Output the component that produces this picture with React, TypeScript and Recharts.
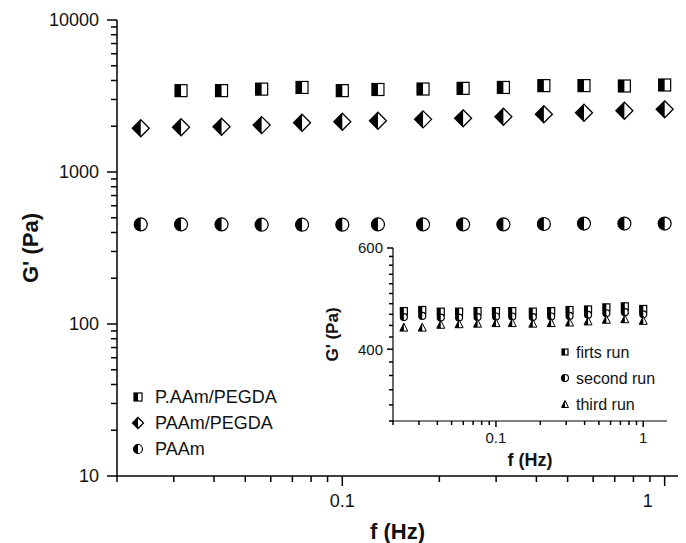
import React from "react";
import { ScatterChart, Scatter, XAxis, YAxis, Legend } from "recharts";

const FONT = "'Liberation Sans', Arial, Helvetica, sans-serif";

// frequency sweep (Hz)
const frequencies = [0.0237, 0.0316, 0.0422, 0.0562, 0.075, 0.1, 0.129, 0.178, 0.237, 0.316, 0.422, 0.562, 0.75, 1.0];

// G' (Pa) main plot; P.AAm/PEGDA has no point at the first frequency
const pAAmPegda = [3430, 3430, 3510, 3600, 3430, 3490, 3515, 3550, 3600, 3700, 3700, 3680, 3735];
const paamPegda = [1940, 1970, 1985, 2035, 2110, 2140, 2175, 2220, 2255, 2310, 2400, 2455, 2530, 2585];
const paam = [452, 452, 452, 450, 450, 450, 452, 452, 452, 452, 455, 458, 458, 458];

// inset: three runs of PAAm
const firstRun = [466, 468, 465, 465, 466, 466, 466, 465, 466, 468, 469, 473, 475, 470];
const secondRun = [455, 457, 454, 454, 455, 456, 456, 455, 456, 457, 459, 462, 464, 460];
const thirdRun = [437, 437, 442, 443, 444, 445, 445, 444, 445, 446, 448, 451, 452, 449];

const xTicks = [0.02, 0.03, 0.04, 0.05, 0.06, 0.07, 0.08, 0.09, 0.1, 0.2, 0.3, 0.4, 0.5, 0.6, 0.7, 0.8, 0.9, 1];
const xLabels = [0.1, 1];
const mainYTicks = [10, 20, 30, 40, 50, 60, 70, 80, 90, 100, 200, 300, 400, 500, 600, 700, 800, 900, 1000, 2000, 3000, 4000, 5000, 6000, 7000, 8000, 9000, 10000];
const mainYLabels = [10, 100, 1000, 10000];
const insetYTicks = [300, 320, 340, 360, 380, 400, 420, 440, 460, 480, 500, 520, 540, 560, 580, 600];
const insetYLabels = [400, 600];

const mainLegend = ["P.AAm/PEGDA", "PAAm/PEGDA", "PAAm"];
const insetLegend = ["firts run", "second run", "third run"];

const toPoints = (xs: number[], ys: number[]) => ys.map((g, i) => ({ f: xs[i], g }));

// ---- markers ----
function HalfSquare({ cx, cy, s }: any) {
  const h = s / 2;
  return (
    <g>
      <rect x={cx - h} y={cy - h} width={s} height={s} fill="#fff" stroke="#000" strokeWidth={1.2} />
      <rect x={cx - h} y={cy - h} width={h} height={s} fill="#000" />
    </g>
  );
}

function HalfDiamond({ cx, cy, s }: any) {
  const h = s / 2;
  return (
    <g>
      <path d={`M${cx},${cy - h}L${cx + h},${cy}L${cx},${cy + h}L${cx - h},${cy}Z`} fill="#fff" stroke="#000" strokeWidth={1.3} />
      <path d={`M${cx},${cy - h}L${cx},${cy + h}L${cx - h},${cy}Z`} fill="#000" />
    </g>
  );
}

function HalfCircle({ cx, cy, s }: any) {
  const r = s / 2;
  return (
    <g>
      <circle cx={cx} cy={cy} r={r} fill="#fff" stroke="#000" strokeWidth={1.2} />
      <path d={`M${cx},${cy - r}A${r},${r} 0 0 0 ${cx},${cy + r}Z`} fill="#000" />
    </g>
  );
}

function HalfTriangle({ cx, cy, s }: any) {
  const h = s / 2;
  return (
    <g>
      <path d={`M${cx},${cy - h}L${cx + h},${cy + h}L${cx - h},${cy + h}Z`} fill="#fff" stroke="#000" strokeWidth={1} />
      <path d={`M${cx},${cy - h}L${cx},${cy + h}L${cx - h},${cy + h}Z`} fill="#000" />
    </g>
  );
}

// ---- ticks (tickSize/tickMargin = 0, so x/y is the axis line) ----
function xTick(labels: number[], fontSize: number, labelDy: number, major: number, minor: number, shift: Record<string, number> = {}) {
  return (props: any) => {
    const { x, y, payload } = props;
    const v = payload.value;
    const isMajor = labels.includes(v);
    return (
      <g>
        <line x1={x} x2={x} y1={y} y2={y + (isMajor ? major : minor)} stroke="#000" strokeWidth={1.5} />
        {isMajor && (
          <text x={x + (shift[v] || 0)} y={y + labelDy} textAnchor="middle" fontSize={fontSize} fontFamily={FONT} fill="#111">
            {v}
          </text>
        )}
      </g>
    );
  };
}

function yTick(labels: number[], fontSize: number, labelDx: number, major: number, minor: number) {
  return (props: any) => {
    const { x, y, payload } = props;
    const v = payload.value;
    const isMajor = labels.includes(v);
    return (
      <g>
        <line x1={x} x2={x - (isMajor ? major : minor)} y1={y} y2={y} stroke="#000" strokeWidth={1.5} />
        {isMajor && (
          <text x={x - labelDx} y={y} dy="0.36em" textAnchor="end" fontSize={fontSize} fontFamily={FONT} fill="#111">
            {v}
          </text>
        )}
      </g>
    );
  };
}

function YTitle({ viewBox, cx, fontSize, text }: any) {
  const cy = viewBox.y + viewBox.height / 2;
  return (
    <text x={cx} y={cy} transform={`rotate(-90 ${cx} ${cy})`} textAnchor="middle" dy="0.35em" fontSize={fontSize} fontWeight="bold" fontFamily={FONT} fill="#111">
      {text}
    </text>
  );
}

function XTitle({ viewBox, dy, fontSize, text }: any) {
  return (
    <text x={viewBox.x + viewBox.width / 2} y={viewBox.y + dy} textAnchor="middle" fontSize={fontSize} fontWeight="bold" fontFamily={FONT} fill="#111">
      {text}
    </text>
  );
}

function LegendBox({ names, markers, size, fontSize, rowGap, textX, width }: any) {
  return (
    <svg width={width} height={rowGap * names.length + 6} style={{ display: "block" }}>
      {names.map((n: string, i: number) => {
        const Marker = markers[i];
        const cy = 12 + i * rowGap;
        return (
          <g key={n}>
            <Marker cx={10} cy={cy} s={size[i]} />
            <text x={textX} y={cy} dy="0.36em" fontSize={fontSize} fontFamily={FONT} fill="#111">
              {n}
            </text>
          </g>
        );
      })}
    </svg>
  );
}

export default function App() {
  const axisLine = { stroke: "#000", strokeWidth: 1.5 };
  return (
    <div style={{ position: "absolute", left: 0, top: 0, width: 686, height: 543, background: "#fff" }}>
      <ScatterChart width={686} height={543} margin={{ top: 20, right: 8, bottom: 37, left: 0 }}>
        <XAxis
          type="number"
          dataKey="f"
          scale="log"
          domain={[0.02, 1.1]}
          allowDataOverflow
          ticks={xTicks}
          interval={0}
          height={30}
          tickSize={0}
          tickMargin={0}
          tickLine={false}
          axisLine={axisLine}
          tick={xTick(xLabels, 18, 31, 10, 6, { 1: -17 })}
          label={<XTitle dy={63} fontSize={22} text="f (Hz)" />}
        />
        <YAxis
          type="number"
          dataKey="g"
          scale="log"
          domain={[10, 10000]}
          allowDataOverflow
          ticks={mainYTicks}
          interval={0}
          width={117}
          tickSize={0}
          tickMargin={0}
          tickLine={false}
          axisLine={axisLine}
          tick={yTick(mainYLabels, 18, 18, 10, 6)}
          label={<YTitle cx={30} fontSize={22} text="G' (Pa)" />}
        />
        <Scatter name={mainLegend[0]} data={toPoints(frequencies.slice(1), pAAmPegda)} isAnimationActive={false} shape={(p: any) => <HalfSquare cx={p.cx} cy={p.cy} s={12} />} />
        <Scatter name={mainLegend[1]} data={toPoints(frequencies, paamPegda)} isAnimationActive={false} shape={(p: any) => <HalfDiamond cx={p.cx} cy={p.cy} s={17} />} />
        <Scatter name={mainLegend[2]} data={toPoints(frequencies, paam)} isAnimationActive={false} shape={(p: any) => <HalfCircle cx={p.cx} cy={p.cy} s={13} />} />
        <Legend
          layout="vertical"
          align="center"
          verticalAlign="middle"
          wrapperStyle={{ left: 128, top: 385, width: 180 }}
          content={() => (
            <LegendBox names={mainLegend} markers={[HalfSquare, HalfDiamond, HalfCircle]} size={[8, 11, 9]} fontSize={18} rowGap={26} textX={27} width={180} />
          )}
        />
      </ScatterChart>

      <div style={{ position: "absolute", left: 300, top: 230 }}>
        <ScatterChart width={386} height={250} margin={{ top: 18, right: 19, bottom: 0, left: 0 }}>
          <XAxis
            type="number"
            dataKey="f"
            scale="log"
            domain={[0.02, 1.45]}
            allowDataOverflow
            ticks={xTicks}
            interval={0}
            height={59}
            tickSize={0}
            tickMargin={0}
            tickLine={false}
            axisLine={{ stroke: "#000", strokeWidth: 1.2 }}
            tick={xTick(xLabels, 15, 22, 6, 4)}
            label={<XTitle dy={45} fontSize={18} text="f (Hz)" />}
          />
          <YAxis
            type="number"
            dataKey="g"
            scale="log"
            domain={[300, 600]}
            allowDataOverflow
            ticks={insetYTicks}
            interval={0}
            width={93}
            tickSize={0}
            tickMargin={0}
            tickLine={false}
            axisLine={{ stroke: "#000", strokeWidth: 1.2 }}
            tick={yTick(insetYLabels, 15, 10, 6, 4)}
            label={<YTitle cx={32} fontSize={17} text="G' (Pa)" />}
          />
          <Scatter name={insetLegend[0]} data={toPoints(frequencies, firstRun)} isAnimationActive={false} shape={(p: any) => <HalfSquare cx={p.cx} cy={p.cy} s={7} />} />
          <Scatter name={insetLegend[1]} data={toPoints(frequencies, secondRun)} isAnimationActive={false} shape={(p: any) => <HalfCircle cx={p.cx} cy={p.cy} s={7} />} />
          <Scatter name={insetLegend[2]} data={toPoints(frequencies, thirdRun)} isAnimationActive={false} shape={(p: any) => <HalfTriangle cx={p.cx} cy={p.cy} s={8} />} />
          <Legend
            layout="vertical"
            align="center"
            verticalAlign="middle"
            wrapperStyle={{ left: 255, top: 110, width: 120 }}
            content={() => (
              <LegendBox names={insetLegend} markers={[HalfSquare, HalfCircle, HalfTriangle]} size={[6, 7, 7]} fontSize={16} rowGap={26} textX={21} width={120} />
            )}
          />
        </ScatterChart>
      </div>
    </div>
  );
}
